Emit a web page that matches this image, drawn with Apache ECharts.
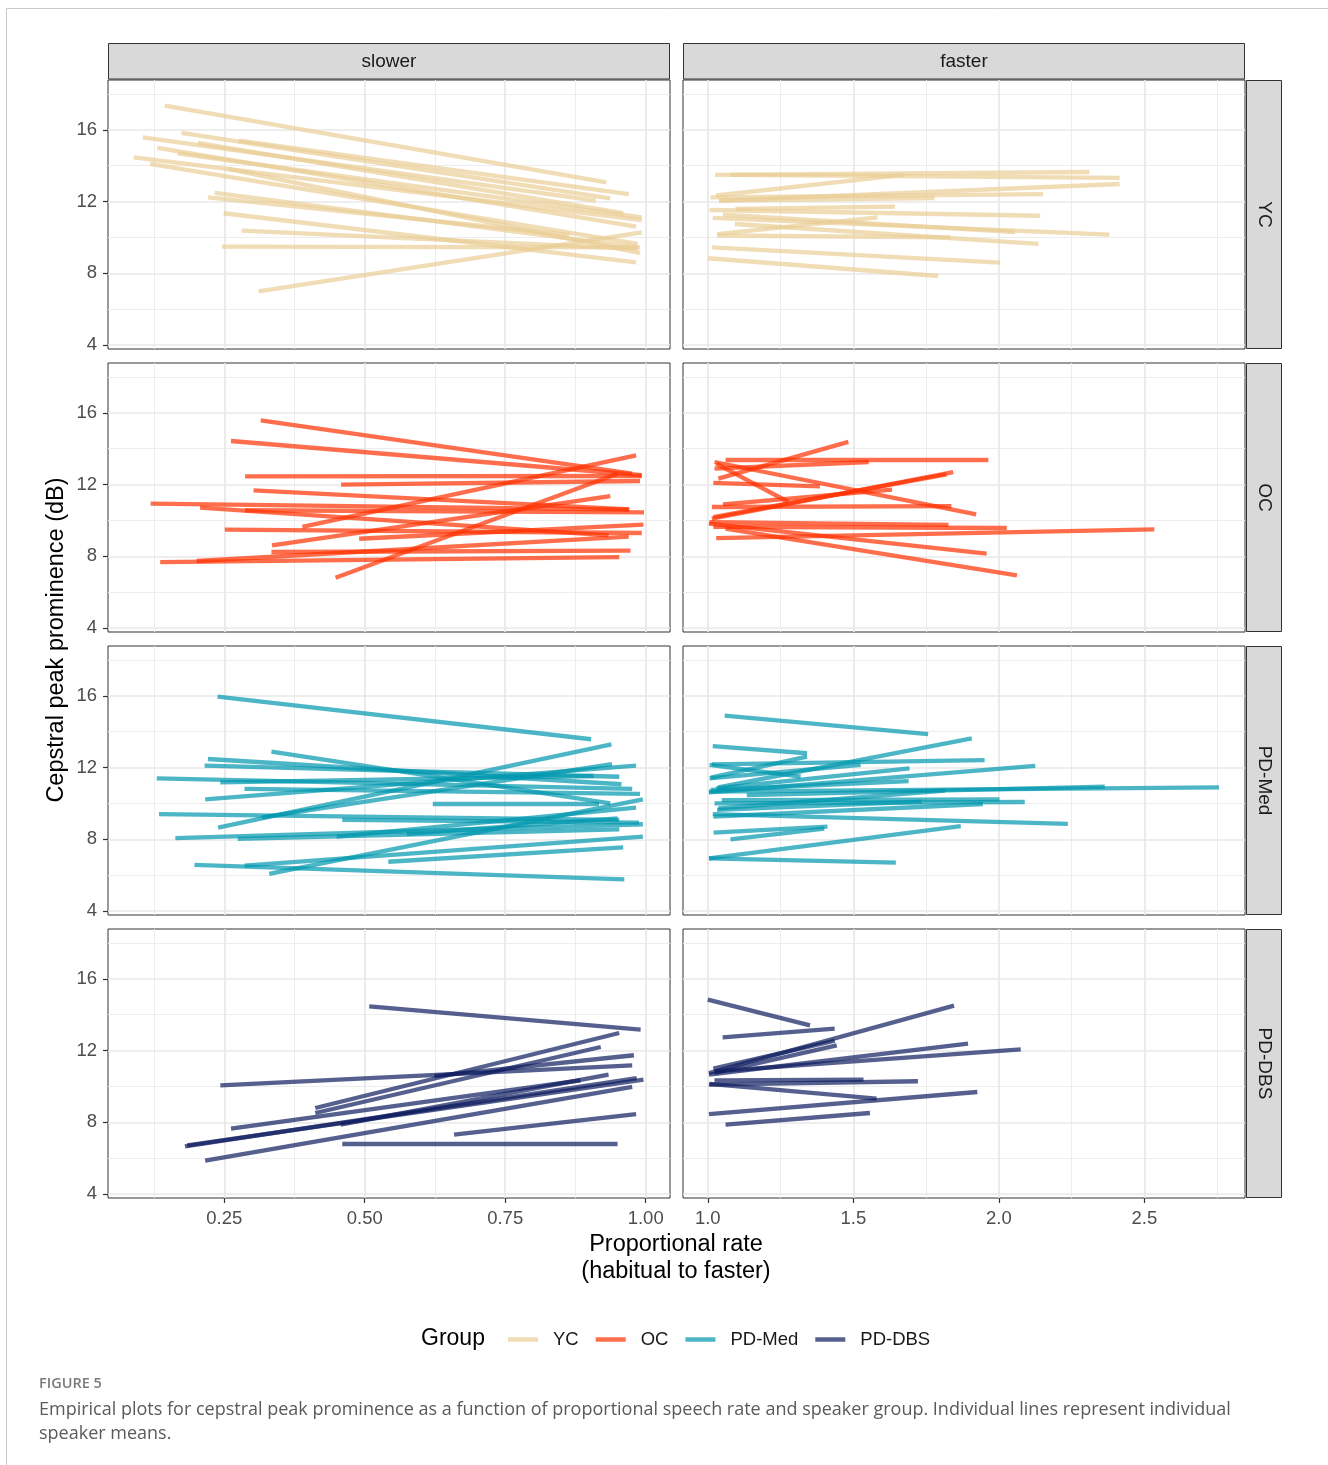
<!DOCTYPE html>
<html><head><meta charset="utf-8">
<script src="https://cdn.jsdelivr.net/npm/echarts@6/dist/echarts.min.js"></script>
<style>html,body{margin:0;padding:0;background:#fff;}#c{width:1328px;height:1465px;}</style>
</head><body><div id="c"></div>
<script>
// ---------- DATA ----------
const groups = ['YC', 'OC', 'PD-Med', 'PD-DBS'];
const facets = ['slower', 'faster'];
const yTicks = [4, 8, 12, 16];
const yMinor = [6, 10, 14, 18];
const xTicksSlower = [0.25, 0.50, 0.75, 1.00];
const xMinorSlower = [0.125, 0.375, 0.625, 0.875];
const xTicksFaster = [1.0, 1.5, 2.0, 2.5];
const xMinorFaster = [1.25, 1.75, 2.25, 2.75];

// each segment: [rate1, cpp1, rate2, cpp2]
const YC_slower = [
  [0.144,17.35,0.930,13.07],[0.174,15.83,0.937,12.18],[0.276,15.40,0.970,12.42],
  [0.105,15.58,0.911,12.05],[0.203,15.27,0.960,11.35],[0.131,14.99,0.983,10.60],
  [0.167,14.69,0.993,11.12],[0.089,14.47,0.993,10.97],[0.118,14.10,0.986,9.64],
  [0.256,13.82,0.990,9.13],[0.233,12.48,0.986,9.45],[0.221,12.24,0.864,10.14],
  [0.249,11.35,0.983,8.61],[0.281,10.38,0.986,9.36],[0.246,9.49,0.990,9.45],
  [0.311,7.00,0.993,10.29]
];
const YC_faster = [
  [1.025,13.49,2.311,13.65],[1.078,13.49,2.415,13.32],[1.029,12.34,1.671,13.49],
  [1.010,12.24,2.152,12.42],[1.039,12.05,2.415,12.98],[1.039,12.05,1.779,12.20],
  [1.006,11.53,2.142,11.21],[1.095,11.59,1.643,11.72],[1.017,11.09,2.380,10.16],
  [1.052,11.27,2.055,10.30],[1.093,10.75,2.136,9.64],[1.032,10.11,1.834,10.01],
  [1.032,10.19,1.583,11.12],[1.014,9.45,2.004,8.60],[1.001,8.84,1.792,7.85]
];
const OC_slower = [
  [0.315,15.58,0.976,12.61],[0.262,14.43,0.993,12.52],[0.287,12.46,0.993,12.48],
  [0.458,12.00,0.990,12.20],[0.302,11.68,0.971,10.62],[0.119,10.94,0.970,10.60],
  [0.207,10.71,0.934,9.17],[0.287,10.57,0.997,10.45],[0.389,9.64,0.983,13.63],
  [0.251,9.49,0.993,9.30],[0.335,8.61,0.937,11.35],[0.490,8.98,0.996,9.77],
  [0.334,8.24,0.973,8.32],[0.136,7.68,0.953,7.96],[0.201,7.74,0.970,9.10],
  [0.448,6.81,0.950,12.61]
];
const OC_faster = [
  [1.036,12.33,1.483,14.38],[1.061,13.39,1.964,13.39],[1.023,12.89,1.553,13.26],
  [1.023,13.26,1.922,10.34],[1.029,13.17,1.277,11.03],[1.019,12.09,1.385,11.90],
  [1.014,10.10,1.843,12.70],[1.019,10.19,1.820,12.57],[1.052,10.90,1.633,11.72],
  [1.014,10.75,1.837,10.80],[1.006,9.90,1.827,9.75],[1.019,9.64,2.027,9.58],
  [1.029,9.02,2.534,9.50],[1.004,9.82,1.958,8.15],[1.061,9.54,2.062,6.94]
];
const PDMed_slower = [
  [0.238,15.96,0.903,13.58],[0.334,12.89,0.937,10.01],[0.221,12.48,0.957,11.07],
  [0.215,12.11,0.953,11.49],[0.130,11.40,0.976,10.81],[0.243,11.18,0.907,11.53],
  [0.286,10.81,0.990,10.53],[0.216,10.23,0.983,12.11],[0.134,9.41,0.953,9.08],
  [0.317,9.23,0.940,12.20],[0.239,8.65,0.939,13.30],[0.460,9.08,0.988,8.93],
  [0.163,8.07,0.995,8.84],[0.274,8.02,0.953,8.56],[0.450,8.15,0.983,9.77],
  [0.575,8.30,0.950,9.17],[0.621,9.97,0.917,9.97],[0.542,6.75,0.960,7.55],
  [0.197,6.57,0.962,5.77],[0.286,6.53,0.995,8.15],[0.330,6.07,0.995,10.23]
];
const PDMed_faster = [
  [1.058,14.90,1.757,13.87],[1.017,13.20,1.341,12.80],[1.010,11.44,1.341,12.61],
  [1.006,12.15,1.319,11.49],[1.014,12.18,1.951,12.42],[1.036,10.90,1.907,13.63],
  [1.006,11.40,1.525,12.15],[1.004,10.62,2.125,12.09],[1.010,10.75,1.690,11.25],
  [1.029,10.84,1.693,11.96],[1.134,10.47,2.364,10.94],[1.004,10.66,2.756,10.90],
  [1.023,10.01,2.089,10.08],[1.048,10.19,2.002,10.23],[1.017,9.41,2.237,8.86],
  [1.019,9.26,1.945,9.97],[1.032,9.64,1.735,10.10],[1.036,9.73,1.815,10.71],
  [1.020,8.37,1.411,8.71],[1.078,8.00,1.400,8.60],[1.004,6.94,1.869,8.74],
  [1.004,6.94,1.646,6.70]
];
const PDDBS_slower = [
  [0.508,14.47,0.991,13.17],[0.243,10.06,0.976,11.18],[0.624,10.57,0.979,11.74],
  [0.412,8.80,0.953,12.98],[0.412,8.52,0.920,12.20],[0.262,7.65,0.884,10.34],
  [0.180,6.66,0.984,10.47],[0.184,6.72,0.996,10.38],[0.457,7.87,0.934,10.66],
  [0.216,5.86,0.976,9.97],[0.659,7.31,0.983,8.46],[0.460,6.79,0.950,6.79]
];
const PDDBS_faster = [
  [1.000,14.84,1.351,13.41],[1.051,12.74,1.436,13.22],[1.004,10.75,1.846,14.51],
  [1.019,10.99,1.436,12.55],[1.023,10.75,1.443,12.29],[1.004,10.66,1.894,12.39],
  [1.023,10.84,2.075,12.07],[1.004,10.10,1.722,10.29],[1.023,10.34,1.535,10.38],
  [1.006,10.14,1.580,9.32],[1.004,8.46,1.926,9.69],[1.061,7.87,1.557,8.52]
];
const panelData = [
  [YC_slower, YC_faster],
  [OC_slower, OC_faster],
  [PDMed_slower, PDMed_faster],
  [PDDBS_slower, PDDBS_faster]
];

// ---------- STYLE / LAYOUT ----------
const colors = ['#E9CD95', '#FF3000', '#0097AE', '#0E1C5F'];
const legendColors = ['rgba(233,205,149,0.7)', 'rgba(255,48,0,0.7)', 'rgba(0,151,174,0.7)', 'rgba(14,28,95,0.7)'];
const colLeft = [108, 683];
const rowTop = [80, 363, 646, 929];
const panelW = 562, panelH = 269;
const xRange = [[0.0431, 1.0433], [0.9148, 2.8456]];
const yRange = [3.78, 18.78];
const FONT = 'Liberation Sans, Arial, sans-serif';

const grids = [], xAxes = [], yAxes = [], series = [];
for (let r = 0; r < 4; r++) {
  for (let c = 0; c < 2; c++) {
    const gi = r * 2 + c;
    grids.push({ left: colLeft[c], top: rowTop[r], width: panelW, height: panelH,
      show: true, borderColor: '#333333', borderWidth: 1, backgroundColor: '#ffffff', containLabel: false });
    const xt = c === 0 ? xTicksSlower : xTicksFaster;
    const xm = c === 0 ? xMinorSlower : xMinorFaster;
    xAxes.push({ type: 'value', gridIndex: gi, min: xRange[c][0], max: xRange[c][1],
      axisLine: { show: false }, splitLine: { show: false },
      axisTick: { show: r === 3, customValues: xt, length: 5, lineStyle: { color: '#333333', width: 1.2 } },
      axisLabel: { show: r === 3, customValues: xt, margin: 11, fontSize: 18.5, color: '#4D4D4D', fontFamily: FONT,
        formatter: v => c === 0 ? v.toFixed(2) : v.toFixed(1) } });
    yAxes.push({ type: 'value', gridIndex: gi, min: yRange[0], max: yRange[1],
      axisLine: { show: false }, splitLine: { show: false },
      axisTick: { show: c === 0, customValues: yTicks, length: 5, lineStyle: { color: '#333333', width: 1.2 } },
      axisLabel: { show: c === 0, customValues: yTicks, margin: 11, fontSize: 18.5, color: '#4D4D4D', fontFamily: FONT } });
    // grid lines
    const major = [], minor = [];
    xt.forEach(v => major.push({ coords: [[v, yRange[0]], [v, yRange[1]]] }));
    yTicks.forEach(v => major.push({ coords: [[xRange[c][0], v], [xRange[c][1], v]] }));
    xm.forEach(v => minor.push({ coords: [[v, yRange[0]], [v, yRange[1]]] }));
    yMinor.forEach(v => minor.push({ coords: [[xRange[c][0], v], [xRange[c][1], v]] }));
    series.push({ type: 'lines', coordinateSystem: 'cartesian2d', xAxisIndex: gi, yAxisIndex: gi,
      silent: true, z: 1, data: minor, lineStyle: { color: '#EDEDED', width: 1, opacity: 1 } });
    series.push({ type: 'lines', coordinateSystem: 'cartesian2d', xAxisIndex: gi, yAxisIndex: gi,
      silent: true, z: 1, data: major, lineStyle: { color: '#E8E8E8', width: 1.7, opacity: 1 } });
    series.push({ type: 'lines', name: groups[r], coordinateSystem: 'cartesian2d', xAxisIndex: gi, yAxisIndex: gi,
      silent: true, z: 3, itemStyle: { color: colors[r] },
      data: panelData[r][c].map(s => ({ coords: [[s[0], s[1]], [s[2], s[3]]] })),
      lineStyle: { color: colors[r], width: 4.3, opacity: 0.7, cap: 'butt' } });
  }
}

const graphics = [];
// figure frame
graphics.push({ type: 'line', shape: { x1: 6.5, y1: 8.5, x2: 6.5, y2: 1465 }, style: { stroke: '#C8C8C8', lineWidth: 1 }, silent: true });
graphics.push({ type: 'line', shape: { x1: 6.5, y1: 8.5, x2: 1328, y2: 8.5 }, style: { stroke: '#C8C8C8', lineWidth: 1 }, silent: true });
// top strips
facets.forEach((f, c) => {
  graphics.push({ type: 'rect', shape: { x: colLeft[c] + 0.5, y: 43.5, width: panelW - 1, height: 35.5 },
    style: { fill: '#D9D9D9', stroke: '#333333', lineWidth: 1 }, silent: true });
  graphics.push({ type: 'text', x: colLeft[c] + panelW / 2, y: 61.5,
    style: { text: f, fill: '#1A1A1A', font: '19px ' + FONT, align: 'center', verticalAlign: 'middle' }, silent: true });
});
// right strips
groups.forEach((g, r) => {
  graphics.push({ type: 'rect', shape: { x: 1246.5, y: rowTop[r] + 0.5, width: 35, height: panelH - 1 },
    style: { fill: '#D9D9D9', stroke: '#333333', lineWidth: 1 }, silent: true });
  graphics.push({ type: 'text', x: 1264, y: rowTop[r] + panelH / 2, rotation: -Math.PI / 2,
    style: { text: g, fill: '#1A1A1A', font: '19px ' + FONT, align: 'center', verticalAlign: 'middle' }, silent: true });
});
// axis titles
graphics.push({ type: 'text', x: 57, y: 640, rotation: Math.PI / 2,
  style: { text: 'Cepstral peak prominence (dB)', fill: '#000', font: '23.5px ' + FONT, align: 'center', verticalAlign: 'middle' }, silent: true });
graphics.push({ type: 'text', x: 676, y: 1245,
  style: { text: 'Proportional rate', fill: '#000', font: '23.5px ' + FONT, align: 'center', verticalAlign: 'middle' }, silent: true });
graphics.push({ type: 'text', x: 676, y: 1272,
  style: { text: '(habitual to faster)', fill: '#000', font: '23.5px ' + FONT, align: 'center', verticalAlign: 'middle' }, silent: true });
// legend title
graphics.push({ type: 'text', x: 421, y: 1339,
  style: { text: 'Group', fill: '#000', font: '23px ' + FONT, align: 'left', verticalAlign: 'middle' }, silent: true });
// caption
graphics.push({ type: 'text', x: 39, y: 1384,
  style: { text: 'FIGURE 5', fill: '#7A7A7A', font: '600 14.5px "Open Sans", sans-serif', align: 'left', verticalAlign: 'middle' }, silent: true });
graphics.push({ type: 'text', x: 39, y: 1410,
  style: { text: 'Empirical plots for cepstral peak prominence as a function of proportional speech rate and speaker group. Individual lines represent individual',
    fill: '#5A5A5A', font: '18px "Open Sans", sans-serif', align: 'left', verticalAlign: 'middle' }, silent: true });
graphics.push({ type: 'text', x: 39, y: 1434,
  style: { text: 'speaker means.', fill: '#5A5A5A', font: '18px "Open Sans", sans-serif', align: 'left', verticalAlign: 'middle' }, silent: true });

const option = {
  backgroundColor: '#ffffff',
  animation: false,
  textStyle: { fontFamily: FONT },
  grid: grids, xAxis: xAxes, yAxis: yAxes, series: series,
  legend: {
    left: 503, top: 1325, orient: 'horizontal', icon: 'rect', itemWidth: 30, itemHeight: 4.5, itemGap: 17,
    selectedMode: false,
    itemStyle: { borderWidth: 0 },
    textStyle: { fontSize: 18.5, color: '#1A1A1A', fontFamily: FONT, padding: [0, 0, 0, 10] },
    data: groups.map((g, i) => ({ name: g, itemStyle: { color: legendColors[i], borderWidth: 0, opacity: 1 }, lineStyle: { width: 0 } }))
  },
  graphic: graphics
};
const chart = echarts.init(document.getElementById('c'), null, { renderer: 'canvas' });
chart.setOption(option);
</script></body></html>
